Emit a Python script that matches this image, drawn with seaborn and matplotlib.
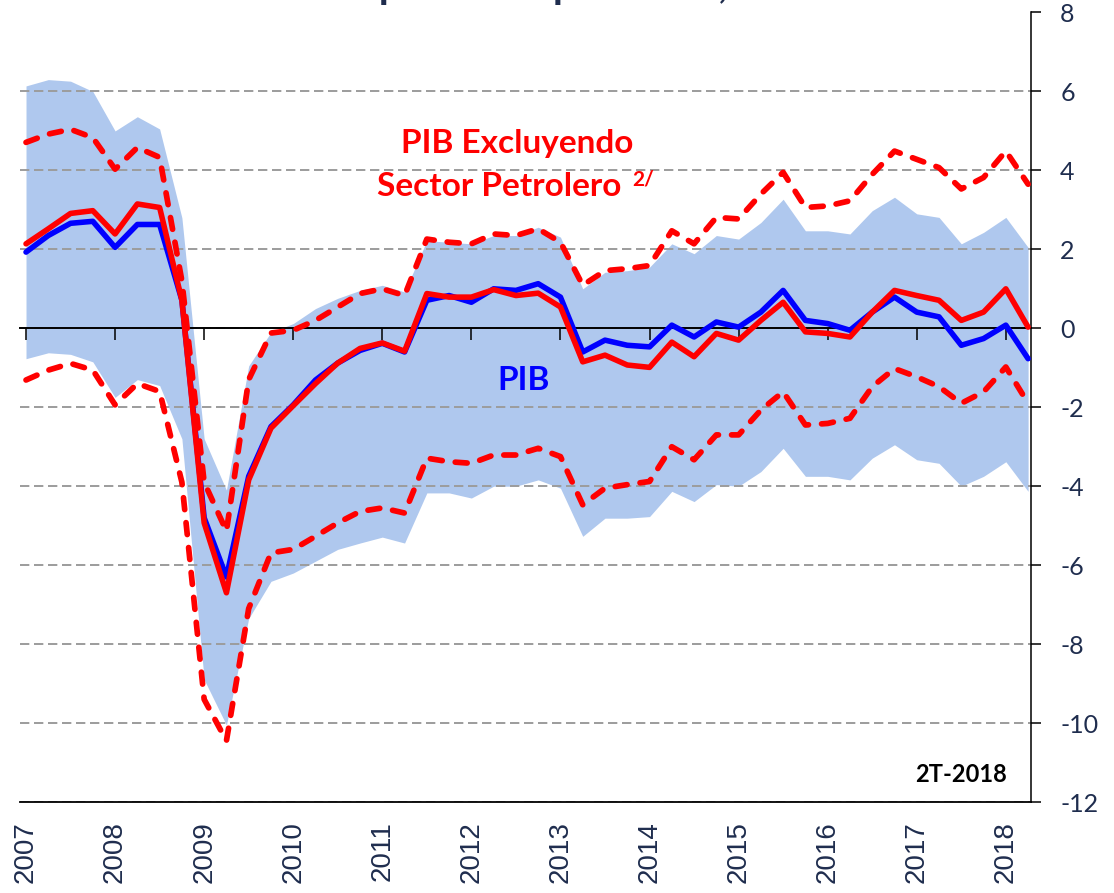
import numpy as np
import pandas as pd
import matplotlib
matplotlib.use("Agg")
import matplotlib.pyplot as plt
import seaborn as sns

sns.set_theme(style="white")
plt.rcParams['font.family'] = ['Lato', 'DejaVu Sans']
plt.rcParams['axes.unicode_minus'] = False

# quarterly data, 2007-I .. 2018-II
years = list(range(2007, 2019))

pib = [1.93, 2.35, 2.66, 2.71, 2.05, 2.63, 2.63, 0.71, -4.80, -6.30,
       -3.75, -2.49, -1.94, -1.31, -0.88, -0.56, -0.38, -0.60, 0.71, 0.83,
       0.66, 1.00, 0.96, 1.13, 0.79, -0.60, -0.30, -0.43, -0.47, 0.08,
       -0.22, 0.16, 0.03, 0.41, 0.96, 0.20, 0.12, -0.05, 0.41, 0.79,
       0.41, 0.29, -0.43, -0.26, 0.08, -0.77]
pib_hi = [6.14, 6.30, 6.26, 6.00, 5.00, 5.36, 5.05, 2.80, -2.80, -4.10,
          -0.95, -0.10, 0.12, 0.50, 0.76, 0.96, 1.09, 0.92, 2.22, 2.18,
          2.14, 2.35, 2.35, 2.56, 2.31, 1.00, 1.42, 1.46, 1.55, 2.14,
          1.89, 2.35, 2.26, 2.68, 3.27, 2.47, 2.47, 2.39, 2.98, 3.32,
          2.90, 2.81, 2.14, 2.43, 2.81, 2.05]
pib_lo = [-0.77, -0.62, -0.66, -0.85, -1.75, -1.30, -1.45, -2.80, -8.90, -10.05,
          -7.35, -6.41, -6.20, -5.90, -5.60, -5.44, -5.29, -5.44, -4.17, -4.17,
          -4.30, -4.00, -4.00, -3.84, -4.05, -5.27, -4.81, -4.81, -4.77, -4.13,
          -4.39, -3.96, -4.00, -3.63, -3.04, -3.75, -3.75, -3.84, -3.29, -2.95,
          -3.33, -3.42, -4.00, -3.75, -3.38, -4.13]

pib_sp = [2.14, 2.52, 2.91, 2.98, 2.39, 3.15, 3.06, 0.71, -4.93, -6.70,
          -3.84, -2.53, -1.96, -1.40, -0.88, -0.51, -0.37, -0.58, 0.88, 0.79,
          0.79, 0.98, 0.83, 0.89, 0.54, -0.85, -0.68, -0.93, -0.99, -0.35,
          -0.72, -0.13, -0.30, 0.20, 0.66, -0.09, -0.13, -0.22, 0.41, 0.96,
          0.83, 0.71, 0.20, 0.41, 1.00, 0.03]
sp_hi = [4.71, 4.92, 5.04, 4.83, 4.03, 4.58, 4.33, 1.20, -3.90, -5.14,
         -1.30, -0.12, -0.05, 0.20, 0.54, 0.88, 1.00, 0.83, 2.26, 2.18,
         2.14, 2.39, 2.35, 2.52, 2.18, 1.09, 1.46, 1.51, 1.59, 2.47,
         2.14, 2.81, 2.77, 3.40, 3.95, 3.06, 3.10, 3.23, 3.90, 4.49,
         4.28, 4.07, 3.53, 3.82, 4.49, 3.65]
sp_lo = [-1.31, -1.06, -0.89, -1.06, -1.94, -1.40, -1.60, -3.90, -9.40, -10.45,
         -7.10, -5.69, -5.60, -5.27, -4.93, -4.64, -4.55, -4.68, -3.29, -3.38,
         -3.42, -3.21, -3.21, -3.04, -3.25, -4.47, -4.05, -3.96, -3.88, -3.00,
         -3.33, -2.70, -2.70, -2.07, -1.61, -2.45, -2.41, -2.28, -1.48, -1.02,
         -1.23, -1.48, -1.90, -1.61, -0.98, -1.90]

df = pd.DataFrame({"t": np.arange(len(pib)), "pib": pib, "pib_hi": pib_hi,
                   "pib_lo": pib_lo, "pib_sp": pib_sp, "sp_hi": sp_hi, "sp_lo": sp_lo})

W, H = 1114, 893
navy = "#1F2D4E"
red = "#FF0000"
blue = "#0000FF"


def px(x, y):
    return x / W, 1 - y / H


fig = plt.figure(figsize=(W / 100, H / 100), dpi=100)
ax = fig.add_axes([20 / W, 1 - 802 / H, (1031 - 20) / W, (802 - 12.5) / H])

ax.fill_between(df["t"], df["pib_lo"], df["pib_hi"], color="#AFC8EE", linewidth=0, zorder=1)

sns.lineplot(data=df, x="t", y="pib", color=blue, linewidth=4.0, ax=ax, zorder=3)
sns.lineplot(data=df, x="t", y="pib_sp", color=red, linewidth=4.0, ax=ax, zorder=4)
for col in ["sp_hi", "sp_lo"]:
    sns.lineplot(data=df, x="t", y=col, color=red, linewidth=4.1, ax=ax, zorder=5,
                 linestyle=(0, (2.1, 2.3)), dash_capstyle="round")

ax.set_xlim(-0.27, 45.13)
ax.set_ylim(-12, 8)
ax.set_xlabel("")
ax.set_ylabel("")

# grid
ax.set_axisbelow("line")
ax.yaxis.grid(True, color="#9C9C9C", linestyle=(0, (4.8, 2.4)), linewidth=1.4)
ax.xaxis.grid(False)

# x labels at the bottom
year_pos = np.arange(0, len(pib), 4)
ax.set_xticks(year_pos)
ax.set_xticklabels([str(y) for y in years], rotation=90, fontsize=20,
                   color=navy, family="Liberation Sans")
ax.tick_params(axis="x", length=0, pad=14)

# y axis on the right
ax.yaxis.tick_right()
ax.set_yticks(range(-12, 9, 2))
ax.set_yticklabels([str(v) for v in range(-12, 9, 2)])
ax.tick_params(axis="y", right=True, left=False, direction="out", length=7,
               width=1.1, color="black", labelsize=18, labelcolor=navy, pad=14)

for s in ["left", "top"]:
    ax.spines[s].set_visible(False)
ax.spines["right"].set_color("black")
ax.spines["right"].set_linewidth(1.1)
ax.spines["bottom"].set_color("black")
ax.spines["bottom"].set_linewidth(1.3)

# zero line with year ticks
zero = ax.secondary_xaxis(12 / 20)
zero.set_xticks(year_pos)
zero.tick_params(axis="x", direction="in", length=8.5, width=1.1, color="black",
                 labeltop=False, labelbottom=False)
for s in zero.spines.values():
    s.set_color("black")
    s.set_linewidth(1.4)
zero.set_zorder(1.8)

# annotations
fig.text(*px(517, 143), "PIB Excluyendo", color=red, fontsize=24,
         fontweight="bold", ha="center", va="center")
fig.text(*px(499, 187), "Sector Petrolero", color=red, fontsize=24,
         fontweight="bold", ha="center", va="center")
fig.text(*px(632, 180), "2/", color=red, fontsize=15, fontweight="bold",
         ha="left", va="center")
fig.text(*px(524, 381), "PIB", color=blue, fontsize=24, fontweight="bold",
         ha="center", va="center")
fig.text(*px(1007, 775), "2T-2018", color="black", fontsize=17,
         fontweight="bold", ha="right", va="center")
fig.text(120 / W, 1 + 2 / H, "Por ciento del producto potencial, a. e.",
         color=navy, fontsize=29, fontweight="bold", ha="left", va="baseline")

fig.savefig("out.png", dpi=100)
